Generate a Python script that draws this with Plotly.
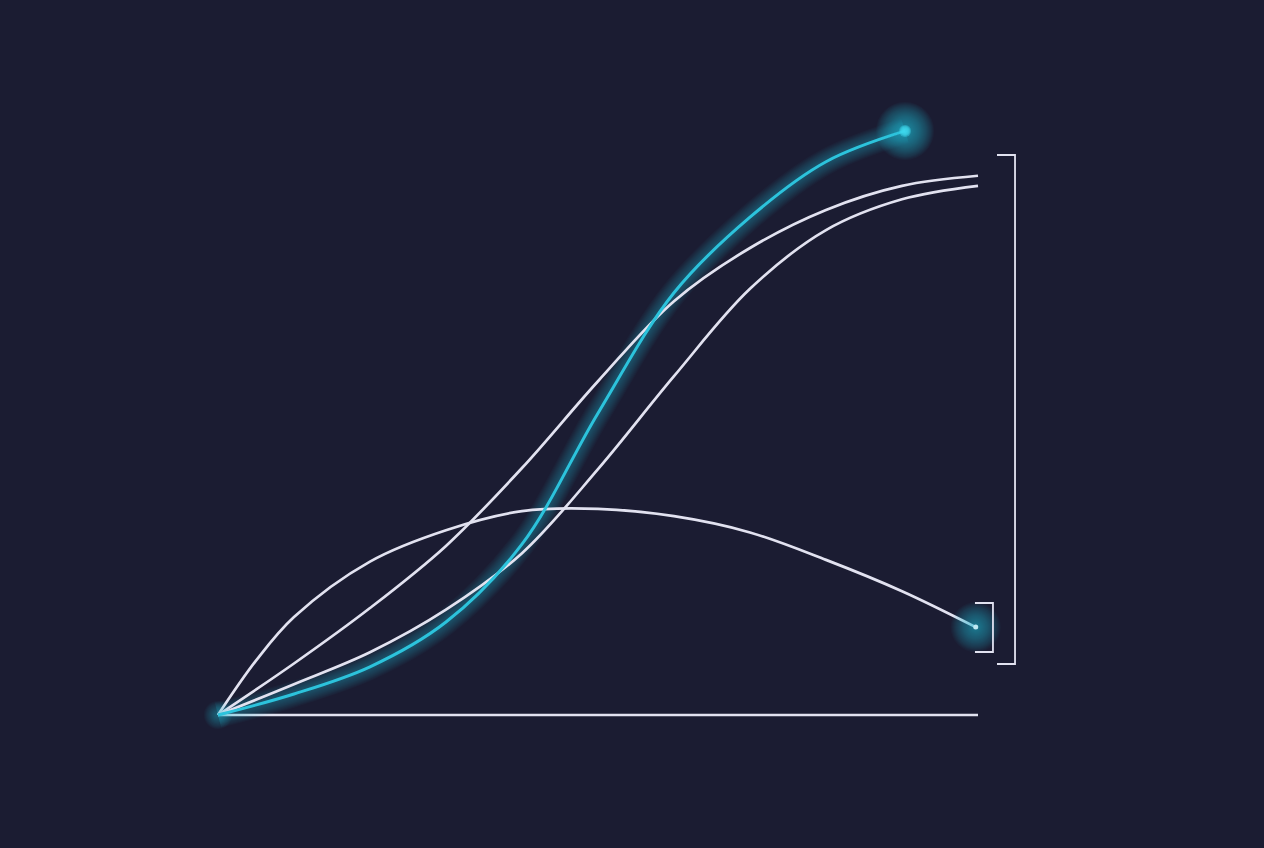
import plotly.graph_objects as go

# values (x: 0..10 along the baseline, y: 0 at the baseline)
arc_x = [0, 0.5, 1, 2, 3, 4, 5, 6, 7, 8, 9, 9.97]
arc_y = [0, 0.97, 1.75, 2.74, 3.30, 3.64, 3.68, 3.55, 3.26, 2.77, 2.21, 1.57]

upper_x = [0, 1, 2, 3, 4, 5, 6, 7, 8, 9, 10]
upper_y = [0, 0.92, 1.91, 3.02, 4.41, 5.96, 7.39, 8.34, 9.02, 9.45, 9.63]

lower_x = [0, 1, 2, 3, 4, 5, 6, 7, 8, 9, 10]
lower_y = [0, 0.55, 1.12, 1.88, 2.89, 4.39, 6.05, 7.61, 8.66, 9.21, 9.45]

cyan_x = [0, 1, 2, 3, 4, 5, 6, 7, 8, 9.04]
cyan_y = [0, 0.375, 0.86, 1.66, 3.05, 5.39, 7.54, 8.89, 9.88, 10.43]

base_x = [0, 10]
base_y = [0, 0]

big_bracket_x = [10.25, 10.487, 10.487, 10.25]
big_bracket_y = [10.0, 10.0, 0.911, 0.911]
small_bracket_x = [9.96, 10.197, 10.197, 9.96]
small_bracket_y = [2.0, 2.0, 1.125, 1.125]

BG = '#1b1c32'
WHITE = '#e2e2f0'
CYAN = '#2cc3dc'

fig = go.Figure()


def line(x, y, color, width, opacity=1.0, shape='spline'):
    fig.add_trace(go.Scatter(x=x, y=y, mode='lines', opacity=opacity,
                             line=dict(color=color, width=width, shape=shape),
                             hoverinfo='skip'))


def glow(x, y, radius, strength, color, step=2):
    # stack of faint discs -> soft radial falloff
    for s in range(radius, 2, -step):
        fig.add_trace(go.Scatter(x=[x], y=[y], mode='markers', opacity=strength,
                                 marker=dict(size=s, color=color, line=dict(width=0)),
                                 hoverinfo='skip'))


line(base_x, base_y, WHITE, 2.6, shape='linear')

# soft halo under the cyan curve
for w in range(26, 4, -2):
    line(cyan_x, cyan_y, CYAN, w, 0.032)

line(arc_x, arc_y, WHITE, 2.7)
line(upper_x, upper_y, WHITE, 2.7)
line(lower_x, lower_y, WHITE, 2.7)
line(cyan_x, cyan_y, CYAN, 3)

# end points glow
glow(cyan_x[-1], cyan_y[-1], 58, 0.035, CYAN)
glow(cyan_x[-1], cyan_y[-1], 12, 0.4, '#3fd9ee')
glow(arc_x[-1], arc_y[-1], 50, 0.03, CYAN)
glow(arc_x[-1], arc_y[-1], 5, 1.0, '#bfe8f2')
glow(cyan_x[0], cyan_y[0], 28, 0.035, CYAN)

line(big_bracket_x, big_bracket_y, WHITE, 1.8, shape='linear')
line(small_bracket_x, small_bracket_y, WHITE, 1.8, shape='linear')

fig.update_layout(
    width=1264, height=848,
    margin=dict(l=0, r=0, t=0, b=0),
    paper_bgcolor=BG, plot_bgcolor=BG,
    showlegend=False,
    xaxis=dict(range=[-2.868, 13.763], visible=False),
    yaxis=dict(range=[-2.375, 12.768], visible=False),
)

fig.write_html("out.html", config={'displayModeBar': False},
               post_script="document.body.style.margin='0';")
